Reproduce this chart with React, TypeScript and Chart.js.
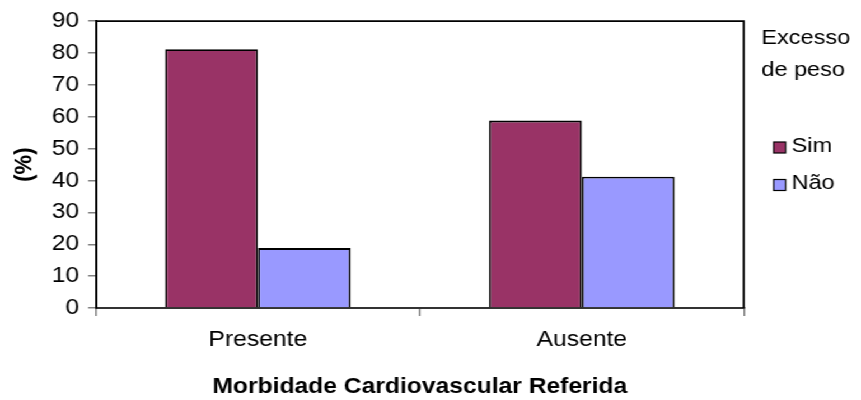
import React, { useEffect, useRef } from "react";
import { Chart, registerables } from "chart.js";

Chart.register(...registerables);

const categories = ["Presente", "Ausente"];
const simValues = [81.2, 58.8];
const naoValues = [18.8, 41.2];
const seriesNames = ["Sim", "Não"];
const legendTitle = ["Excesso", "de peso"];
const yTitle = "(%)";
const xTitle = "Morbidade Cardiovascular Referida";

const SIM_COLOR = "#993366";
const NAO_COLOR = "#9999FF";
const FONT = "'Liberation Sans', Arial, sans-serif";

const LOGICAL_W = 769;
const STRETCH = 861 / LOGICAL_W;

const framePlugin = {
  id: "frame",
  afterDraw(chart: any) {
    const { ctx, chartArea } = chart;
    ctx.save();
    ctx.strokeStyle = "#000";
    ctx.lineWidth = 1.8;
    ctx.beginPath();
    ctx.moveTo(chartArea.left, chartArea.top);
    ctx.lineTo(chartArea.right, chartArea.top);
    ctx.lineTo(chartArea.right, chartArea.bottom);
    ctx.stroke();

    // legend
    ctx.fillStyle = "#000";
    ctx.font = `21px ${FONT}`;
    ctx.textBaseline = "middle";
    ctx.textAlign = "left";
    ctx.fillText(legendTitle[0], 680, 38);
    ctx.fillText(legendTitle[1], 680, 70);
    const colors = [SIM_COLOR, NAO_COLOR];
    const ys = [147.5, 185];
    seriesNames.forEach((name, i) => {
      ctx.fillStyle = colors[i];
      ctx.fillRect(691, ys[i] - 5.5, 10.7, 11);
      ctx.strokeStyle = "#000";
      ctx.lineWidth = 1.2;
      ctx.strokeRect(691, ys[i] - 5.5, 10.7, 11);
      ctx.fillStyle = "#000";
      ctx.fillText(name, 707, ys[i] - 1.5);
    });
    ctx.restore();
  },
};

export default function App() {
  const ref = useRef<HTMLCanvasElement | null>(null);

  useEffect(() => {
    if (!ref.current) return;
    Chart.defaults.font.family = FONT;
    const chart = new Chart(ref.current, {
      type: "bar",
      data: {
        labels: categories,
        datasets: [
          {
            label: seriesNames[0],
            data: simValues,
            backgroundColor: SIM_COLOR,
            borderColor: "#000",
            borderWidth: 1.8,
          },
          {
            label: seriesNames[1],
            data: naoValues,
            backgroundColor: NAO_COLOR,
            borderColor: "#000",
            borderWidth: 1.8,
          },
        ],
      },
      options: {
        animation: false,
        responsive: true,
        maintainAspectRatio: false,
        datasets: {
          bar: { categoryPercentage: 0.573, barPercentage: 1.0 },
        },
        layout: { padding: { left: 0, right: 104.7, top: 21, bottom: 0 } },
        plugins: {
          legend: { display: false },
          tooltip: { enabled: false },
        },
        scales: {
          x: {
            afterFit: (s: any) => {
              s.height = 92;
            },
            grid: {
              drawOnChartArea: false,
              drawTicks: true,
              tickLength: 8,
              color: "#808080",
              lineWidth: 1.5,
              offset: true,
            },
            border: { display: true, color: "#333", width: 2 },
            ticks: {
              color: "#000",
              font: { size: 22 },
              padding: 11,
            },
            title: {
              display: true,
              text: xTitle,
              color: "#000",
              font: { size: 22, weight: "bold" },
              padding: { top: 0, bottom: 0 },
            },
          },
          y: {
            min: 0,
            max: 90,
            afterFit: (s: any) => {
              s.width = 85.7;
            },
            grid: {
              drawOnChartArea: false,
              drawTicks: true,
              tickLength: 7,
              color: "#808080",
              lineWidth: 1.5,
            },
            border: { display: true, color: "#000", width: 2 },
            ticks: {
              stepSize: 10,
              color: "#000",
              font: { size: 22 },
              padding: 8,
            },
            title: {
              display: true,
              text: yTitle,
              color: "#000",
              font: { size: 22, weight: "bold" },
              padding: { top: 9, bottom: 0 },
            },
          },
        },
      },
      plugins: [framePlugin],
    });
    return () => chart.destroy();
  }, []);

  return (
    <div
      style={{
        position: "fixed",
        left: 0,
        top: 0,
        width: LOGICAL_W + "px",
        height: "400px",
        transform: `scaleX(${STRETCH})`,
        transformOrigin: "0 0",
        background: "#fff",
      }}
    >
      <canvas ref={ref} />
    </div>
  );
}
